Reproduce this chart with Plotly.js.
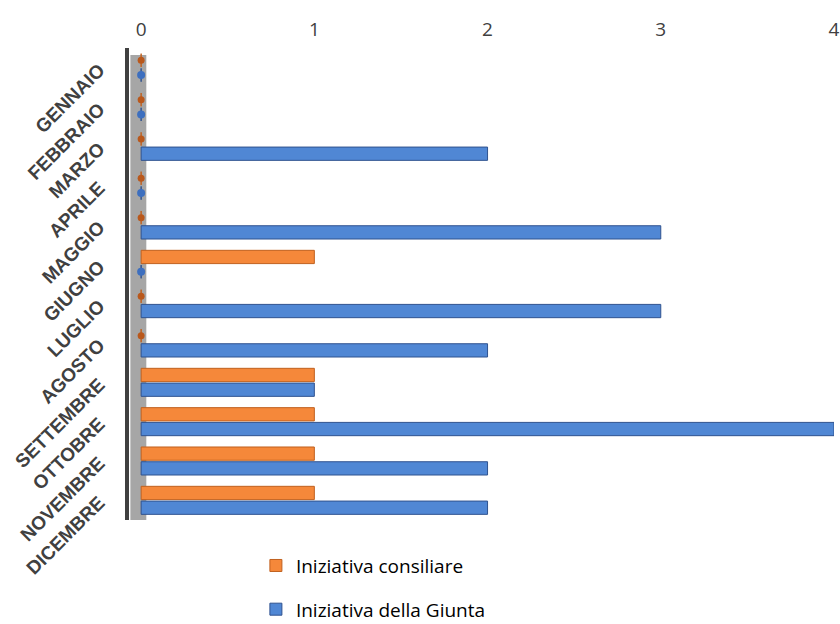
<!DOCTYPE html>
<html><head><meta charset="utf-8">
<script src="https://cdn.plot.ly/plotly-3.0.1.min.js"></script>
<style>html,body{margin:0;padding:0;background:#fff}#chart{width:840px;height:624px}</style>
</head><body><div id="chart"></div>
<script>
const months = ["GENNAIO","FEBBRAIO","MARZO","APRILE","MAGGIO","GIUGNO","LUGLIO","AGOSTO","SETTEMBRE","OTTOBRE","NOVEMBRE","DICEMBRE"];
const consiliare = [0,0,0,0,0,1,0,0,1,1,1,1];
const giunta     = [0,0,2,0,3,0,3,2,1,4,2,2];
const seriesNames = ["Iniziativa consiliare","Iniziativa della Giunta"];
const xTicks = [0,1,2,3,4];

const idx = months.map((m,i)=>i);
const bargap = 0.25, groupgap = 0.1;
const off = (1-bargap)/4;

const traces = [
  {type:'bar', orientation:'h', name:seriesNames[0], x:consiliare, y:idx,
   marker:{color:'#F5883A', line:{color:'#C0601E', width:1}}, legendgroup:'a'},
  {type:'bar', orientation:'h', name:seriesNames[1], x:giunta, y:idx,
   marker:{color:'#5087D4', line:{color:'#2F528F', width:1}}, legendgroup:'b'},
  {type:'scatter', mode:'markers', showlegend:false, hoverinfo:'skip',
   x:consiliare.filter(v=>v===0), y:idx.filter(i=>consiliare[i]===0).map(i=>i-off),
   marker:{color:'#B9581C', size:7, symbol:'circle'}},
  {type:'scatter', mode:'markers', showlegend:false, hoverinfo:'skip',
   x:giunta.filter(v=>v===0), y:idx.filter(i=>giunta[i]===0).map(i=>i+off),
   marker:{color:'#3D6FBF', size:8, symbol:'circle'}}
];

const layout = {
  width:840, height:624,
  margin:{l:129, r:6, t:48, b:104},
  paper_bgcolor:'#fff', plot_bgcolor:'rgba(0,0,0,0)',
  barmode:'group', bargap:bargap, bargroupgap:groupgap,
  font:{family:'Liberation Sans, Arial, sans-serif', color:'#404040'},
  xaxis:{side:'top', range:[-0.07,4], tickvals:xTicks, ticktext:xTicks.map(String),
    showgrid:false, zeroline:false, showline:false, ticks:'outside', ticklen:3, tickcolor:'rgba(0,0,0,0)',
    tickfont:{size:19, color:'#404040', family:'Open Sans, sans-serif'}},
  yaxis:{range:[11.5,-0.5], tickvals:idx, ticktext:months, tickangle:-45,
    showgrid:false, zeroline:false, showline:true, linewidth:4, linecolor:'#404040',
    ticks:'outside', ticklen:22, tickcolor:'rgba(0,0,0,0)',
    tickfont:{size:19, color:'#404040', family:'Liberation Sans, Arial, sans-serif', weight:'bold'}},
  shapes:[{type:'rect', xref:'x', yref:'paper', x0:-0.062, x1:0.03, y0:0, y1:0.985,
    fillcolor:'#A6A6A6', line:{width:0}, layer:'below'}],
  showlegend:true,
  legend:{x:0.18, xanchor:'left', xref:'paper', yref:'container', y:0.124, yanchor:'top',
    traceorder:'grouped', tracegroupgap:16,
    font:{size:19, color:'#000', family:'Open Sans, sans-serif'}, bgcolor:'rgba(0,0,0,0)'}
};
Plotly.newPlot('chart', traces, layout, {displayModeBar:false, staticPlot:true});
</script></body></html>
